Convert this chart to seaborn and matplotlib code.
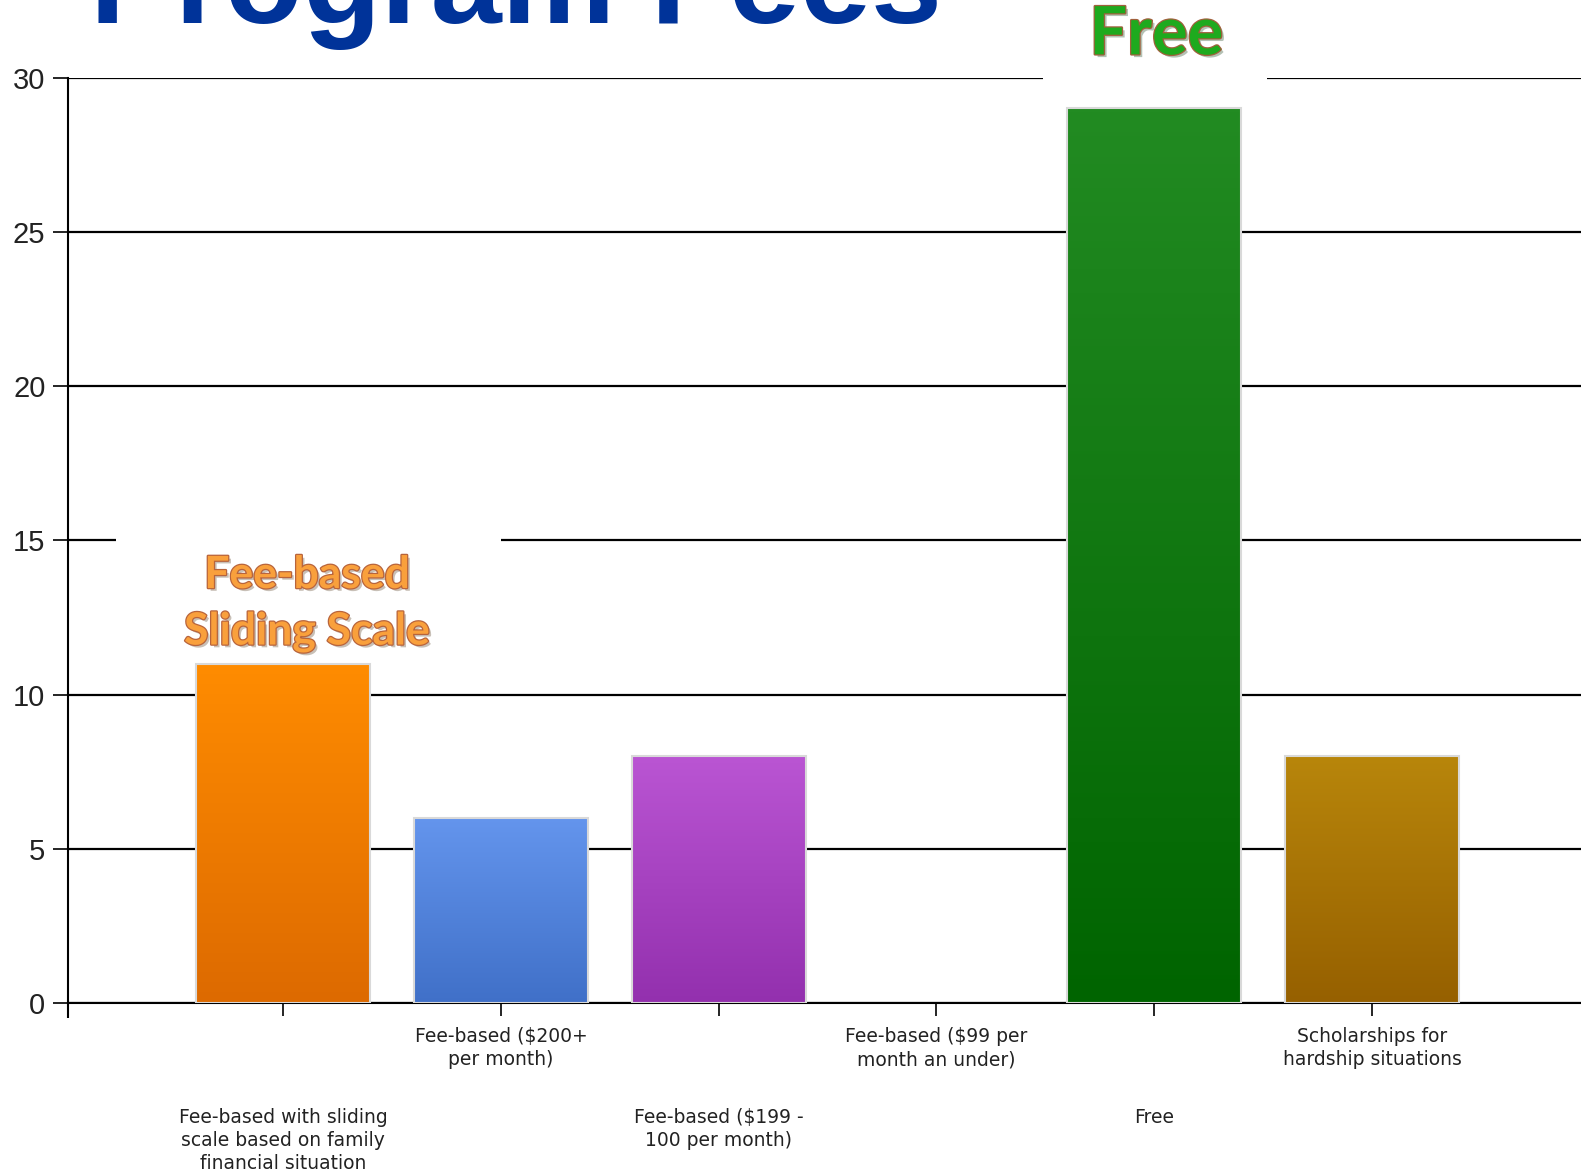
import numpy as np
import pandas as pd
import matplotlib
matplotlib.use("Agg")
import matplotlib.pyplot as plt
import matplotlib.colors as mcolors
import matplotlib.patheffects as pe
from matplotlib.patches import Rectangle
from matplotlib.transforms import ScaledTranslation
import seaborn as sns

# ---- data ----
categories = [
    "Fee-based with sliding\nscale based on family\nfinancial situation",
    "Fee-based ($200+\nper month)",
    "Fee-based ($199 -\n100 per month)",
    "Fee-based ($99 per\nmonth an under)",
    "Free",
    "Scholarships for\nhardship situations",
]
values = [11, 6, 8, 0, 29, 8]
yticks = [0, 5, 10, 15, 20, 25, 30]
top_colors = ["#FF8C00", "#6495ED", "#BA55D3", "#FFFFFF", "#228B22", "#B8860B"]
bottom_colors = ["#DD6A00", "#4070C8", "#9330AE", "#FFFFFF", "#006400", "#966000"]
title = "Program Fees"
note1 = "Fee-based\nSliding Scale"
note2 = "Free"

sns.set_theme(style="white")
plt.rcParams["font.family"] = ["DejaVu Sans"]

W, H = 1581, 1176
fig = plt.figure(figsize=(W / 100, H / 100), dpi=100)
ax = fig.add_axes([67.6 / W, 1 - 1003 / H, 1 - 67.6 / W, (1003 - 77.6) / H])

df = pd.DataFrame({"cat": categories, "val": values})
sns.barplot(data=df, x="cat", y="val", hue="cat", palette=top_colors,
            legend=False, width=0.8, edgecolor="#d9d9d9", linewidth=1.5,
            ax=ax, zorder=3)

# gradient fill clipped to each bar
for patch, c_top, c_bot in zip(ax.patches, top_colors, bottom_colors):
    x0, y0 = patch.get_x(), patch.get_y()
    w, h = patch.get_width(), patch.get_height()
    if h <= 0:
        patch.set_visible(False)
        continue
    cmap = mcolors.LinearSegmentedColormap.from_list("g", [c_bot, c_top])
    grad = np.linspace(0, 1, 256).reshape(-1, 1)
    im = ax.imshow(grad, extent=[x0, x0 + w, y0, y0 + h], origin="lower",
                   aspect="auto", cmap=cmap, zorder=2.9)
    im.set_clip_path(patch)
    patch.set_facecolor("none")

ax.set_xlim(-0.99, 5.96)
ax.set_ylim(0, 30)
ax.set_yticks(yticks)
ax.set_yticklabels([str(v) for v in yticks], fontsize=21, color="#222222",
                   family=["Liberation Sans", "DejaVu Sans"])
ax.set_xticks(range(len(categories)))
ax.set_xticklabels(categories, fontsize=13.5, color="#222222", linespacing=1.25)
ax.set_xlabel("")
ax.set_ylabel("")

ax.yaxis.grid(True, color="black", linewidth=1.6, zorder=1)
ax.set_axisbelow(True)
for s in ["top", "right"]:
    ax.spines[s].set_visible(False)
ax.spines["left"].set_color("black")
ax.spines["bottom"].set_color("black")
ax.spines["left"].set_linewidth(1.5)
ax.spines["bottom"].set_linewidth(1.5)
ax.tick_params(axis="y", left=True, length=11, width=1.2, color="black", pad=5)
ax.tick_params(axis="x", bottom=True, length=9, width=1.2, color="black", pad=8.5)
ax.set_xticks([-0.99], minor=True)
ax.tick_params(axis="x", which="minor", bottom=True, length=11, width=1.5, color="black")

# stagger the category labels
offset = ScaledTranslation(0, -0.81, fig.dpi_scale_trans)
for i, lab in enumerate(ax.get_xticklabels()):
    if i % 2 == 0:
        lab.set_transform(lab.get_transform() + offset)

# white masks behind the callouts
ax.add_patch(Rectangle((-0.77, 11.3), 1.77, 5.0, facecolor="white",
                       edgecolor="none", zorder=1.5))
ax.add_patch(Rectangle((3.49, 29.2), 1.03, 2.0, facecolor="white",
                       edgecolor="none", zorder=1.5, clip_on=False))

callout_font = ["Lato", "DejaVu Sans"]
ax.text(0.11, 12.95, note1, ha="center", va="center", fontsize=32,
        fontweight="bold", color="#F9A03C", family=callout_font,
        linespacing=1.5, zorder=5,
        path_effects=[pe.SimplePatchShadow(offset=(2, -2), alpha=0.3),
                      pe.withStroke(linewidth=1.8, foreground="#B8643C")])
ax.text(4.01, 31.37, note2, ha="center", va="center", fontsize=48,
        fontweight="bold", color="#1EAA1E", family=callout_font, zorder=5,
        clip_on=False,
        path_effects=[pe.SimplePatchShadow(offset=(2, -2), alpha=0.3),
                      pe.withStroke(linewidth=1.8, foreground="#A0603C")])

fig.text(90 / W, 1 - 23 / H, title, ha="left", va="baseline", fontsize=92,
         fontweight="bold", color="#003399",
         family=["Liberation Sans", "DejaVu Sans"])

fig.savefig("out.png", dpi=100, facecolor="white")
